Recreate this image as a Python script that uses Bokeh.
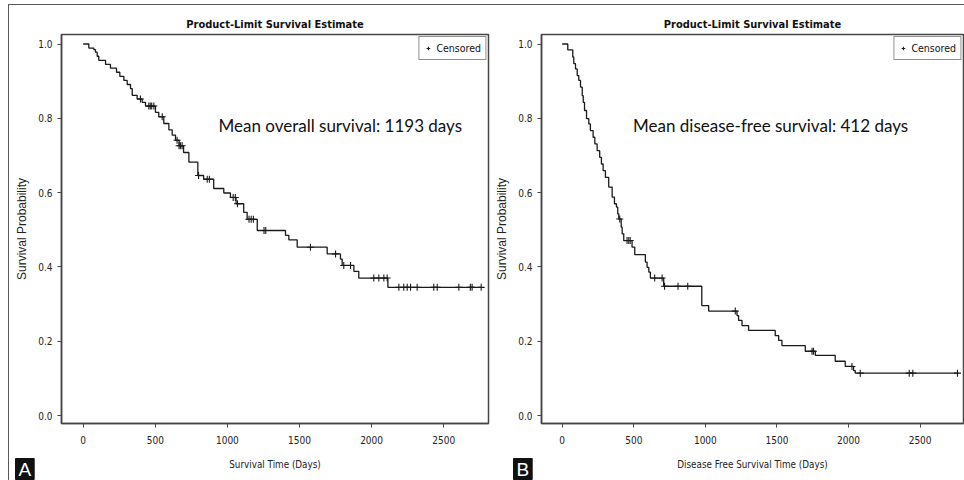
import numpy as np
from bokeh.plotting import figure
from bokeh.models import (FixedTicker, Label, Legend, LegendItem, Range1d,
                          NumeralTickFormatter, Title)
from bokeh.layouts import row
from bokeh.embed import file_html
from bokeh.resources import INLINE

# ---------------- data ----------------
# Panel A: overall survival, Kaplan-Meier steps (day of event, survival after it)
os_times = [0, 39, 74, 85, 97, 108, 155, 189, 231, 254, 282, 305, 328, 340, 374, 409, 432,
            501, 524, 559, 594, 617, 640, 665, 696, 733, 795, 835, 905, 975, 1021, 1060,
            1113, 1137, 1207, 1403, 1426, 1484, 1692, 1784, 1796, 1877, 1911, 2113]
os_surv = [1.0, 0.989, 0.985, 0.978, 0.967, 0.956, 0.945, 0.935, 0.924, 0.913, 0.902, 0.891,
           0.880, 0.862, 0.852, 0.843, 0.833, 0.816, 0.804, 0.786, 0.769, 0.755, 0.741, 0.726,
           0.708, 0.682, 0.646, 0.636, 0.611, 0.599, 0.587, 0.570, 0.547, 0.528, 0.498, 0.485,
           0.473, 0.453, 0.435, 0.421, 0.404, 0.388, 0.370, 0.345]
os_censored = [397, 455, 465, 475, 490, 548, 651, 665, 675, 686, 800, 860, 875, 1040, 1055,
               1070, 1150, 1165, 1180, 1254, 1266, 1576, 1750, 1807, 1854, 2015, 2050, 2085,
               2108, 2189, 2223, 2247, 2270, 2316, 2431, 2455, 2605, 2685, 2697, 2760]
os_last_day = 2760

# Panel B: disease-free survival
dfs_times = [0, 39, 74, 81, 93, 105, 116, 128, 140, 147, 156, 170, 186, 197, 216, 228, 244,
             262, 274, 286, 302, 325, 349, 365, 379, 388, 395, 412, 419, 430, 488, 507, 581,
             593, 605, 616, 709, 975, 1023, 1221, 1232, 1256, 1302, 1488, 1512, 1535, 1698,
             1768, 1907, 1977, 2035, 2047]
dfs_surv = [1.0, 0.984, 0.965, 0.947, 0.933, 0.915, 0.902, 0.884, 0.861, 0.843, 0.821, 0.799,
            0.785, 0.767, 0.749, 0.731, 0.713, 0.695, 0.677, 0.659, 0.641, 0.615, 0.588, 0.570,
            0.561, 0.543, 0.529, 0.507, 0.489, 0.471, 0.453, 0.433, 0.413, 0.399, 0.386, 0.370,
            0.348, 0.296, 0.281, 0.269, 0.256, 0.242, 0.229, 0.215, 0.202, 0.188, 0.173, 0.162,
            0.146, 0.132, 0.121, 0.114]
dfs_censored = [402, 453, 465, 475, 646, 698, 715, 809, 877, 1209, 1745, 1755, 2024, 2082,
                2424, 2449, 2761]
dfs_last_day = 2768

x_ticks = [0, 500, 1000, 1500, 2000, 2500]
y_ticks = [0.0, 0.2, 0.4, 0.6, 0.8, 1.0]

panel_title = "Product-Limit Survival Estimate"
legend_label = "Censored"
y_label = "Survival Probability"
os_x_label = "Survival Time (Days)"
dfs_x_label = "Disease Free Survival Time (Days)"
os_note = "Mean overall survival: 1193 days"
dfs_note = "Mean disease-free survival: 412 days"

# ---------------- styling ----------------
NARROW = "DejaVu Sans Condensed"
INK = "#1a1a1a"
FRAME = "#454545"
H = 475


def km_panel(times, surv, censored, last_day, xlabel, note, note_x, x_range,
             width, b_left, b_right, letter, letter_offset):
    p = figure(width=width, height=H, output_backend="svg", toolbar_location=None,
               x_range=Range1d(*x_range), y_range=Range1d(-0.0215, 1.0256),
               min_border_left=b_left, min_border_right=b_right,
               min_border_top=29, min_border_bottom=57,
               title=panel_title)
    p.background_fill_color = "white"
    p.border_fill_color = "white"
    p.outline_line_color = FRAME
    p.outline_line_width = 1.5
    p.grid.visible = False

    p.title.align = "center"
    p.title.text_font = NARROW
    p.title.text_font_style = "bold"
    p.title.text_font_size = "11px"
    p.title.text_color = "#111111"
    p.title.standoff = 7

    for ax in (p.xaxis[0], p.yaxis[0]):
        ax.axis_line_color = FRAME
        ax.axis_line_width = 1.5
        ax.major_tick_line_color = FRAME
        ax.major_tick_out = 4
        ax.major_tick_in = 0
        ax.minor_tick_line_color = None
        ax.major_label_text_font = NARROW
        ax.major_label_text_font_size = "10px"
        ax.major_label_text_color = "#222222"
        ax.axis_label_text_font_style = "normal"
        ax.axis_label_text_color = "#222222"
    p.xaxis.axis_label_text_font = NARROW
    p.xaxis.axis_label_text_font_size = "9.8px"
    p.yaxis.axis_label_text_font = "Liberation Sans"
    p.yaxis.axis_label_text_font_size = "12px"
    p.xaxis.ticker = FixedTicker(ticks=x_ticks)
    p.yaxis.ticker = FixedTicker(ticks=y_ticks)
    p.yaxis.formatter = NumeralTickFormatter(format="0.0")
    p.xaxis.major_label_standoff = 8
    p.yaxis.major_label_standoff = 5
    p.xaxis.axis_label = xlabel
    p.yaxis.axis_label = y_label
    p.xaxis.axis_label_standoff = 12
    p.yaxis.axis_label_standoff = 6

    # step curve
    t = np.asarray(times, dtype=float)
    s = np.asarray(surv, dtype=float)
    xs = np.append(t, last_day)
    ys = np.append(s, s[-1])
    p.step(xs, ys, mode="after", line_color=INK, line_width=1.3)

    # censored marks on the curve
    c = np.asarray(censored, dtype=float)
    cy = s[np.searchsorted(t, c, side="right") - 1]
    cr = p.scatter(c, cy, marker="cross", size=7, line_color=INK, line_width=1.1)

    legend = Legend(items=[LegendItem(label=legend_label, renderers=[cr])],
                    location="top_right", margin=2, padding=4, spacing=0,
                    glyph_width=9, glyph_height=14, label_height=14, label_standoff=4,
                    border_line_color="#222222", border_line_width=1,
                    background_fill_color="white", background_fill_alpha=1.0,
                    label_text_font=NARROW, label_text_font_size="10.5px",
                    label_text_color="#111111")
    p.add_layout(legend)

    p.add_layout(Label(x=note_x, y=0.78, text=note, text_baseline="middle",
                       text_font="Lato", text_font_size="17px",
                       text_color="#111111"))

    # panel letter, white on a black box, below the x axis
    tag = Title(text=letter, align="left", offset=letter_offset, vertical_align="top",
                standoff=-28, text_font="Liberation Sans", text_font_size="19px",
                text_font_style="normal", text_color="white",
                background_fill_color="#111111", border_line_color="#111111",
                padding=(3, 0))
    p.add_layout(tag, "below")
    return p


p1 = km_panel(os_times, os_surv, os_censored, os_last_day, os_x_label, os_note, 938,
              (-150.5, 2810.7), 483, 52, 4, "A", -46)
p2 = km_panel(dfs_times, dfs_surv, dfs_censored, dfs_last_day, dfs_x_label, dfs_note, 495,
              (-144.5, 2803), 472, 49, 1, "B", -28)

layout = row(p1, p2, styles={"margin-left": "8px", "margin-top": "4px",
                             "border-left": "1px solid #5a5a5a",
                             "border-top": "1px solid #5a5a5a"})

open("out.html", "w").write(file_html(layout, INLINE))
